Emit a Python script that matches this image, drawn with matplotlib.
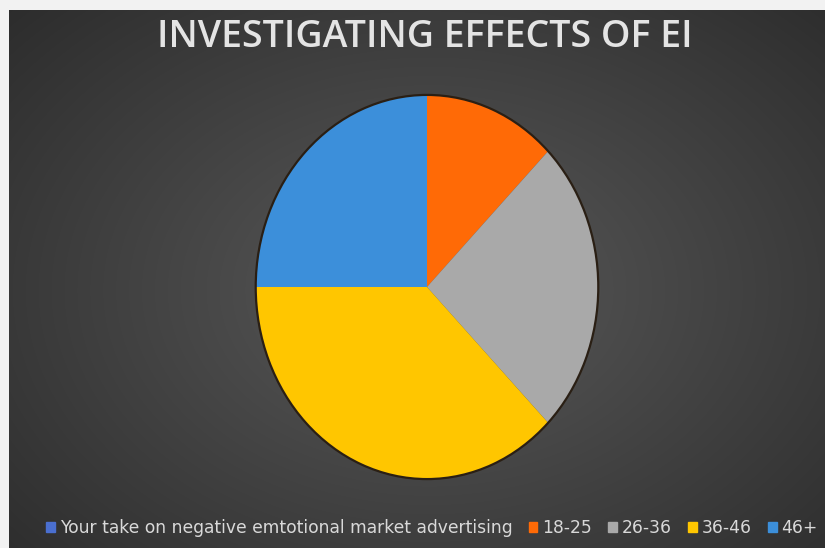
import numpy as np
import matplotlib
matplotlib.use("Agg")
import matplotlib.pyplot as plt
from matplotlib.patches import Patch

# survey shares by age group
age_groups = ["18-25", "26-36", "36-46", "46+"]
shares = [1, 2, 3, 2]
colors = ["#FF6A06", "#A9A9A9", "#FFC600", "#3C8FDA"]

series_name = "Your take on negative emtotional market advertising"
series_color = "#4A6FD0"
title = "INVESTIGATING EFFECTS OF EI"

W, H = 825, 548
fig = plt.figure(figsize=(W / 100, H / 100), dpi=100)
fig.patch.set_facecolor("#f2f2f2")

# dark radial backdrop
bg = fig.add_axes([9 / W, 0, (W - 9) / W, (H - 10) / H])
yy, xx = np.mgrid[0:538, 0:816]
cx, cy = 420, 280
d = np.sqrt(((xx - cx) / 560.0) ** 2 + ((yy - cy) / 400.0) ** 2)
shade = np.clip(0.35 - 0.17 * d, 0.16, 0.35)
bg.imshow(np.dstack([shade] * 3), aspect="auto", interpolation="bilinear")
bg.set_axis_off()

fig.text(425 / W, 1 - 37 / H, title, ha="center", va="center",
         fontsize=27, color="#e4e4e4", fontfamily="Open Sans",
         fontweight="semibold")

ax = fig.add_axes([254 / W, 67 / H, 346 / W, 388 / H])
wedges, _ = ax.pie(shares, colors=colors, startangle=90, counterclock=False,
                   wedgeprops=dict(linewidth=0))
ax.pie([1], colors=["none"], radius=1.0,
       wedgeprops=dict(linewidth=1.6, edgecolor="#2a1f14", fill=False))
ax.set_aspect("auto")
ax.set_xlim(-1.01, 1.01)
ax.set_ylim(-1.01, 1.01)
ax.set_axis_off()

handles = [Patch(color=series_color)] + [Patch(color=c) for c in colors]
labels = [series_name] + age_groups
fig.legend(handles, labels, loc="center", bbox_to_anchor=(432 / W, 1 - 528 / H),
           ncol=5, frameon=False,
           prop={"family": ["DejaVu Sans"], "size": 12.3},
           labelcolor="#d9d9d9", handlelength=0.5, handleheight=0.6,
           handletextpad=0.3, columnspacing=0.95)

fig.savefig("out.png", dpi=100, facecolor=fig.get_facecolor())
